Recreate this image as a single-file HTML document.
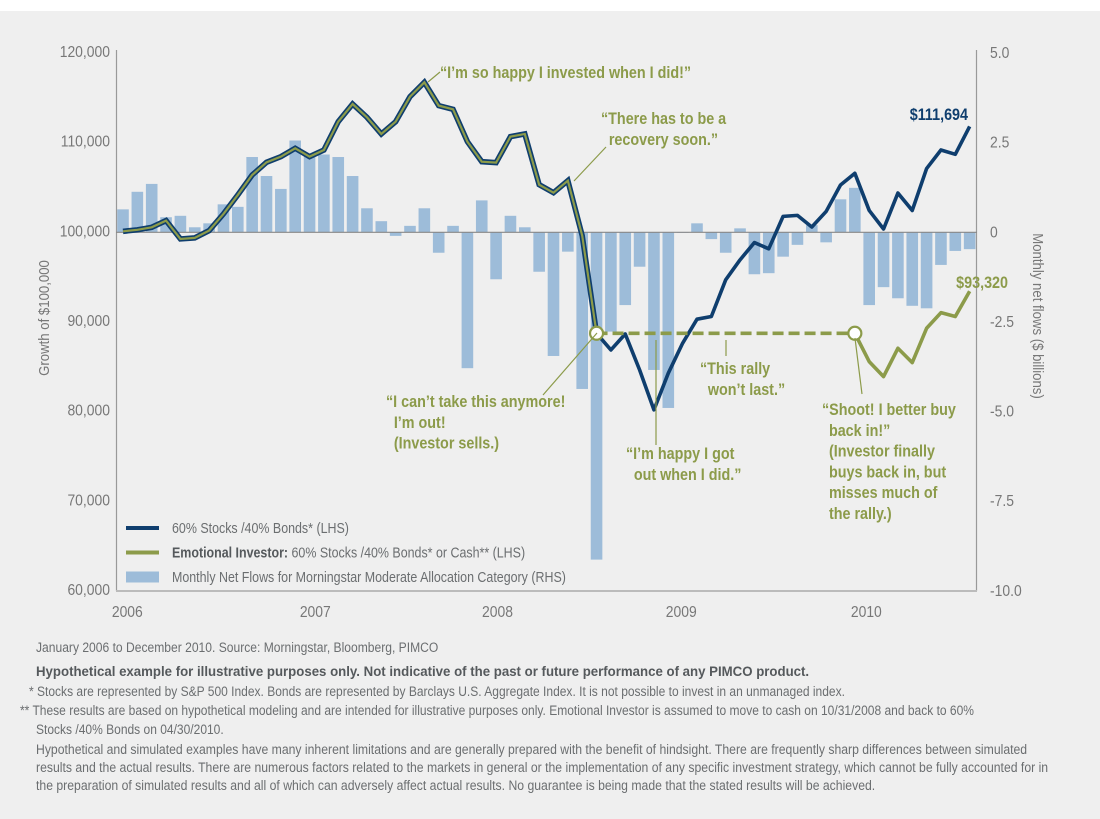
<!DOCTYPE html>
<html><head><meta charset="utf-8"><style>
body{margin:0;background:#fff;width:1100px;height:819px;overflow:hidden}
#panel{position:absolute;left:0;top:11px;width:1100px;height:808px;background:#efefef}
svg{position:absolute;left:0;top:0}
.fn{position:absolute;left:36px;font-family:"Liberation Sans",sans-serif;font-size:13.5px;color:#6b6e70;line-height:18px;white-space:nowrap;transform-origin:0 0;transform:scaleX(0.89)}
</style></head><body>
<div id="panel"></div>
<svg id="chart" width="1100" height="819"></svg>
<div class="fn" style="top:639px;transform:scaleX(0.895)">January 2006 to December 2010. Source: Morningstar, Bloomberg, PIMCO</div>
<div class="fn" style="top:662px;font-weight:bold;color:#55595c;font-size:14px;transform:scaleX(0.945)">Hypothetical example for illustrative purposes only. Not indicative of the past or future performance of any PIMCO product.</div>
<div class="fn" style="top:683px;left:29px">* Stocks are represented by S&amp;P 500 Index. Bonds are represented by Barclays U.S. Aggregate Index. It is not possible to invest in an unmanaged index.</div>
<div class="fn" style="top:702px;left:20px">** These results are based on hypothetical modeling and are intended for illustrative purposes only. Emotional Investor is assumed to move to cash on 10/31/2008 and back to 60%</div>
<div class="fn" style="top:721px;left:36px">Stocks /40% Bonds on 04/30/2010.</div>
<div class="fn" style="top:741px;transform:scaleX(0.905)">Hypothetical and simulated examples have many inherent limitations and are generally prepared with the benefit of hindsight. There are frequently sharp differences between simulated<br>results and the actual results. There are numerous factors related to the markets in general or the implementation of any specific investment strategy, which cannot be fully accounted for in<br>the preparation of simulated results and all of which can adversely affect actual results. No guarantee is being made that the stated results will be achieved.</div>
<script>
const balanced=[100000,100170,100450,101200,99150,99270,100080,101940,104060,106280,107700,108330,109260,108330,109070,112230,114200,112720,110860,112230,115020,116620,114020,113610,110000,107770,107660,110560,110860,105200,104310,105650,99520,88630,86770,88550,84550,80090,84180,87530,90200,90500,94590,96820,98750,98050,101670,101780,100480,102220,105170,106470,102330,100260,104270,102330,107000,109070,108590,111694];
const emotionalAfter=[85470,83800,86960,85360,89190,90930,90500,93320];
const sellIndex=33;
const buyIndex=51;
const flows=[0.64,1.13,1.35,0.42,0.46,0.14,0.25,0.78,0.71,2.10,1.57,1.21,2.56,2.15,2.17,2.10,1.57,0.67,0.31,-0.10,0.18,0.67,-0.57,0.18,-3.79,0.89,-1.31,0.46,0.14,-1.10,-3.45,-0.54,-4.37,-9.13,-2.77,-2.03,-0.96,-3.84,-4.90,0,0.25,-0.19,-0.57,0.11,-1.17,-1.14,-0.68,-0.35,0.20,-0.28,0.92,1.24,-2.03,-1.53,-1.84,-2.05,-2.12,-0.91,-0.52,-0.47];
const leftTicks=[60000,70000,80000,90000,100000,110000,120000];
const rightTicks=[5.0,2.5,0,-2.5,-5.0,-7.5,-10.0];
const yearLabels=["2006","2007","2008","2009","2010"];
const yearPos=[0.3,13.4,26.1,38.9,51.8];

const X=i=>123+i*14.35;
const YL=v=>52+(120000-v)/60000*538;
const YR=v=>232.3-v*35.85;
const svg=document.getElementById('chart');
const NS='http://www.w3.org/2000/svg';
function mk(t,a,p){const e=document.createElementNS(NS,t);for(const k in a)e.setAttribute(k,a[k]);(p||svg).appendChild(e);return e;}
const FONT='"Liberation Sans",sans-serif';
function txt(x,y,s,attrs,sx){const a=Object.assign({x:0,y:0,'font-family':FONT,transform:`translate(${x},${y}) scale(${sx||0.87},1)`},attrs);const e=mk('text',a);e.textContent=s;return e;}

// bars
flows.forEach((v,i)=>{
  const y0=YR(0),y1=YR(v);
  const r=mk('rect',{x:X(i)-5.8,y:Math.min(y0,y1),width:11.6,height:Math.max(0.5,Math.abs(y1-y0)),fill:'#9dbcd9'});
  
  
});
// axes
mk('line',{x1:116.5,y1:50,x2:116.5,y2:591,stroke:'#999','stroke-width':1.2});
mk('line',{x1:976.5,y1:50,x2:976.5,y2:591,stroke:'#999','stroke-width':1.2});
mk('line',{x1:116,y1:591,x2:977,y2:591,stroke:'#bbb','stroke-width':2});
mk('line',{x1:116,y1:YR(0),x2:977,y2:YR(0),stroke:'#888','stroke-width':1.2});
leftTicks.forEach(v=>{const t=txt(110,YL(v)+5,v.toLocaleString('en-US'),{'text-anchor':'end','font-size':16,fill:'#777'});
  
  });
rightTicks.forEach(v=>{const t=txt(990,YR(v)+5,(v===0?'0':v.toFixed(1)),{'font-size':16,fill:'#777'});
  
  });
yearLabels.forEach((s,k)=>{const t=txt(X(yearPos[k]),617,s,{'text-anchor':'middle','font-size':16,fill:'#777'});
  
  });
let t=mk('text',{transform:'translate(49,318) rotate(-90) scale(0.88,1)','text-anchor':'middle','font-family':FONT,'font-size':15,fill:'#777'});t.textContent='Growth of $100,000';

t=mk('text',{transform:'translate(1033,316) rotate(90) scale(0.88,1)','text-anchor':'middle','font-family':FONT,'font-size':15,fill:'#777'});t.textContent='Monthly net flows ($ billions)';


// lines
const pts=(arr,off)=>arr.map((v,i)=>X(i+off)+','+YL(v)).join(' ');
const shared=balanced.slice(0,sellIndex+1);
let p=mk('polyline',{points:pts(balanced.slice(sellIndex),sellIndex),fill:'none',stroke:'#0f3e6e','stroke-width':3.6,'stroke-linejoin':'round'});

mk('polyline',{points:pts(shared,0),fill:'none',stroke:'#0f3e6e','stroke-width':5.5,'stroke-linejoin':'miter'});
p=mk('polyline',{points:pts(shared,0),fill:'none',stroke:'#8c9b4a','stroke-width':2.2,'stroke-linejoin':'miter'});

const cashV=balanced[sellIndex];
p=mk('line',{x1:X(sellIndex),y1:YL(cashV),x2:X(buyIndex),y2:YL(cashV),stroke:'#8c9b4a','stroke-width':3.6,'stroke-dasharray':'11,5'});

p=mk('polyline',{points:pts([cashV].concat(emotionalAfter),buyIndex),fill:'none',stroke:'#8c9b4a','stroke-width':3.6,'stroke-linejoin':'round'});

[sellIndex,buyIndex].forEach(i=>{const c=mk('circle',{cx:X(i),cy:YL(cashV),r:6.5,fill:'#fff',stroke:'#8c9b4a','stroke-width':2.2});
  });

// annotations
const G='#8c9b4a';
function ann(lines,x,y,name,anchor,color){const g=mk('text',{x:0,y:0,transform:`translate(${x},${y}) scale(0.87,1)`,'font-family':FONT,'font-size':16.5,'font-weight':'bold',fill:color||G,'text-anchor':anchor||'start'});
  lines.forEach((s,k)=>{const ts=mk('tspan',{x:(s.dx||0),dy:k?20.8:0},g);ts.textContent=s.t||s;});
  }
function lead(x1,y1,x2,y2){mk('line',{x1,y1,x2,y2,stroke:G,'stroke-width':1.2});}
ann(['\u201cI\u2019m so happy I invested when I did!\u201d'],440,78,'annotation-happy-invested');
lead(440,72,428,82);
ann(['\u201cThere has to be a',{t:'recovery soon.\u201d',dx:9}],601,124,'annotation-recovery');
lead(606,147,574,181);
ann(['\u201cI can\u2019t take this anymore!',{t:'I\u2019m out!',dx:9},{t:'(Investor sells.)',dx:9}],386,407,'annotation-investor-sells');
lead(543,395,597,333);
ann(['\u201cI\u2019m happy I got',{t:'out when I did.\u201d',dx:9}],626,459,'annotation-got-out');
lead(656,340,656,445);
ann(['\u201cThis rally',{t:'won\u2019t last.\u201d',dx:9}],700,374,'annotation-rally');
lead(726,340,726,356);
ann(['\u201cShoot! I better buy',{t:'back in!\u201d',dx:8},{t:'(Investor finally',dx:8},{t:'buys back in, but',dx:8},{t:'misses much of',dx:8},{t:'the rally.)',dx:8}],822,415,'annotation-buy-back');
lead(855,338,862,394);
ann(['$111,694'],968,120,'end-value-balanced','end','#0f3e6e');
ann(['$93,320'],1008,288,'end-value-emotional','end',G);

// legend
const leg=[['#0f3e6e',4,'60% Stocks /40% Bonds* (LHS)',''],[G,4,' 60% Stocks /40% Bonds* or Cash** (LHS)','Emotional Investor:'],['#9dbcd9',11,'Monthly Net Flows for Morningstar Moderate Allocation Category (RHS)','']];
leg.forEach((l,k)=>{const y=528+k*24.5;
  const g=mk('g',{});
  mk('rect',{x:126,y:y-l[1]/2,width:33,height:l[1],fill:l[0]},g);
  const tx=mk('text',{x:0,y:0,transform:`translate(172,${y+5}) scale(0.83,1)`,'font-family':FONT,'font-size':15,fill:'#6b6e70'},g);
  if(l[3]){const b=mk('tspan',{'font-weight':'bold',fill:'#55595c'},tx);b.textContent=l[3];}
  const s=mk('tspan',{},tx);s.textContent=l[2];});
</script>
</body></html>
